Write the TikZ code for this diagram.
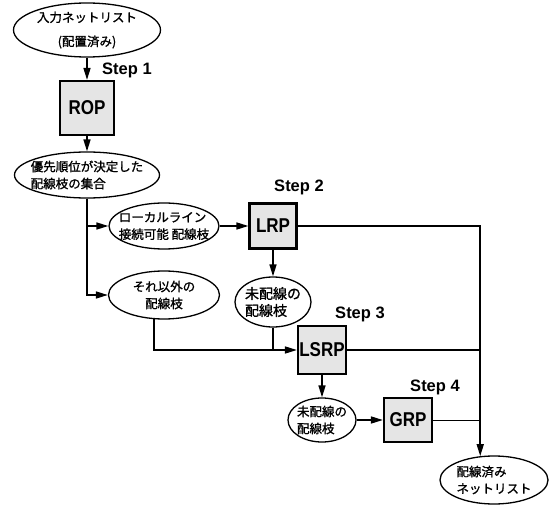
\documentclass[tikz,border=0pt]{standalone}
\usepackage{fontspec}
\setmainfont{Noto Sans CJK JP}
\newfontfamily\jpfont[FakeBold=1.2]{Noto Sans CJK JP}
\newfontfamily\labfont{Liberation Sans}
\newfontfamily\boxfont[FakeStretch=0.85]{Liberation Sans}
\usetikzlibrary{arrows.meta,positioning,shapes.geometric}
\tikzset{
  blob/.style={ellipse, draw=black, line width=1.3pt, fill=white,
    inner sep=-20pt, align=left, font=\jpfont\fontsize{12.5}{17}\selectfont},
  proc/.style={rectangle, draw=black, line width=2.2pt, fill=black!10,
    inner sep=0pt, font=\boxfont\bfseries\fontsize{20}{20}\selectfont},
  steplbl/.style={font=\labfont\bfseries\fontsize{16.5}{16.5}\selectfont},
  flow/.style={-{Triangle[length=12pt,width=7pt]}, line width=1.6pt},
  wire/.style={line width=1.6pt},
  thinwire/.style={line width=1pt},
}
\begin{document}
\begin{tikzpicture}[x=1pt, y=1pt, on grid]
  \useasboundingbox (0,0) rectangle (557,-505);
  \node[blob, minimum width=147pt, minimum height=54pt, align=center,
    font=\jpfont\fontsize{12.5}{24}\selectfont] (in) at (87,-30) {入力ネットリスト\\(配置済み)};
  \node[proc, minimum width=54pt, minimum height=54pt, below=78pt of in] (rop) {ROP};
  \node[steplbl, above right=38pt and 40pt of rop] (s1) {Step 1};
  \node[blob, minimum width=145pt, minimum height=46pt, below=67pt of rop] (set) {優先順位が決定した\\配線枝の集合};
  \node[blob, minimum width=110pt, minimum height=46pt, below right=51pt and 77pt of set] (local) {ローカルライン\\接続可能 配線枝};
  \node[blob, minimum width=111pt, minimum height=48pt, align=center, below=69pt of local] (other) {それ以外の\\配線枝};
  \node[proc, minimum width=47pt, minimum height=45pt, right=109pt of local] (lrp) {LRP};
  \node[steplbl, above right=39pt and 26pt of lrp] (s2) {Step 2};
  \node[blob, minimum width=76pt, minimum height=50pt, below=76pt of lrp,
    font=\jpfont\fontsize{14}{17}\selectfont] (un1) {未配線の\\配線枝};
  \node[proc, minimum width=48pt, minimum height=48pt, below right=48pt and 49pt of un1] (lsrp) {LSRP};
  \node[steplbl, above right=36pt and 38pt of lsrp] (s3) {Step 3};
  \node[blob, minimum width=68pt, minimum height=44pt, below=70pt of lsrp] (un2) {未配線の\\配線枝};
  \node[proc, minimum width=48pt, minimum height=44pt, right=86pt of un2] (grp) {GRP};
  \node[steplbl, above right=33pt and 27pt of grp] (s4) {Step 4};
  \node[blob, minimum width=108pt, minimum height=48pt, below right=60pt and 86pt of grp] (done) {配線済み\\ネットリスト};

  \draw[flow] (in) -- (rop);
  \draw[flow] (rop) -- (set);
  \draw[flow] (set.south) |- (local);
  \draw[flow] (set.south) |- (other);
  \draw[flow] (local) -- (lrp);
  \draw[flow] (lrp) -- (un1);
  \draw[flow] (lrp) -| (done.120);
  \draw[flow] (other.248) |- (lsrp);
  \draw[wire] (un1) -- (un1 |- lsrp);
  \draw[wire] (lsrp) -- (lsrp -| done.120);
  \draw[flow] (lsrp) -- (un2);
  \draw[flow] (un2) -- (grp);
  \draw[thinwire] (grp) -- (grp -| done.120);
\end{tikzpicture}
\end{document}
